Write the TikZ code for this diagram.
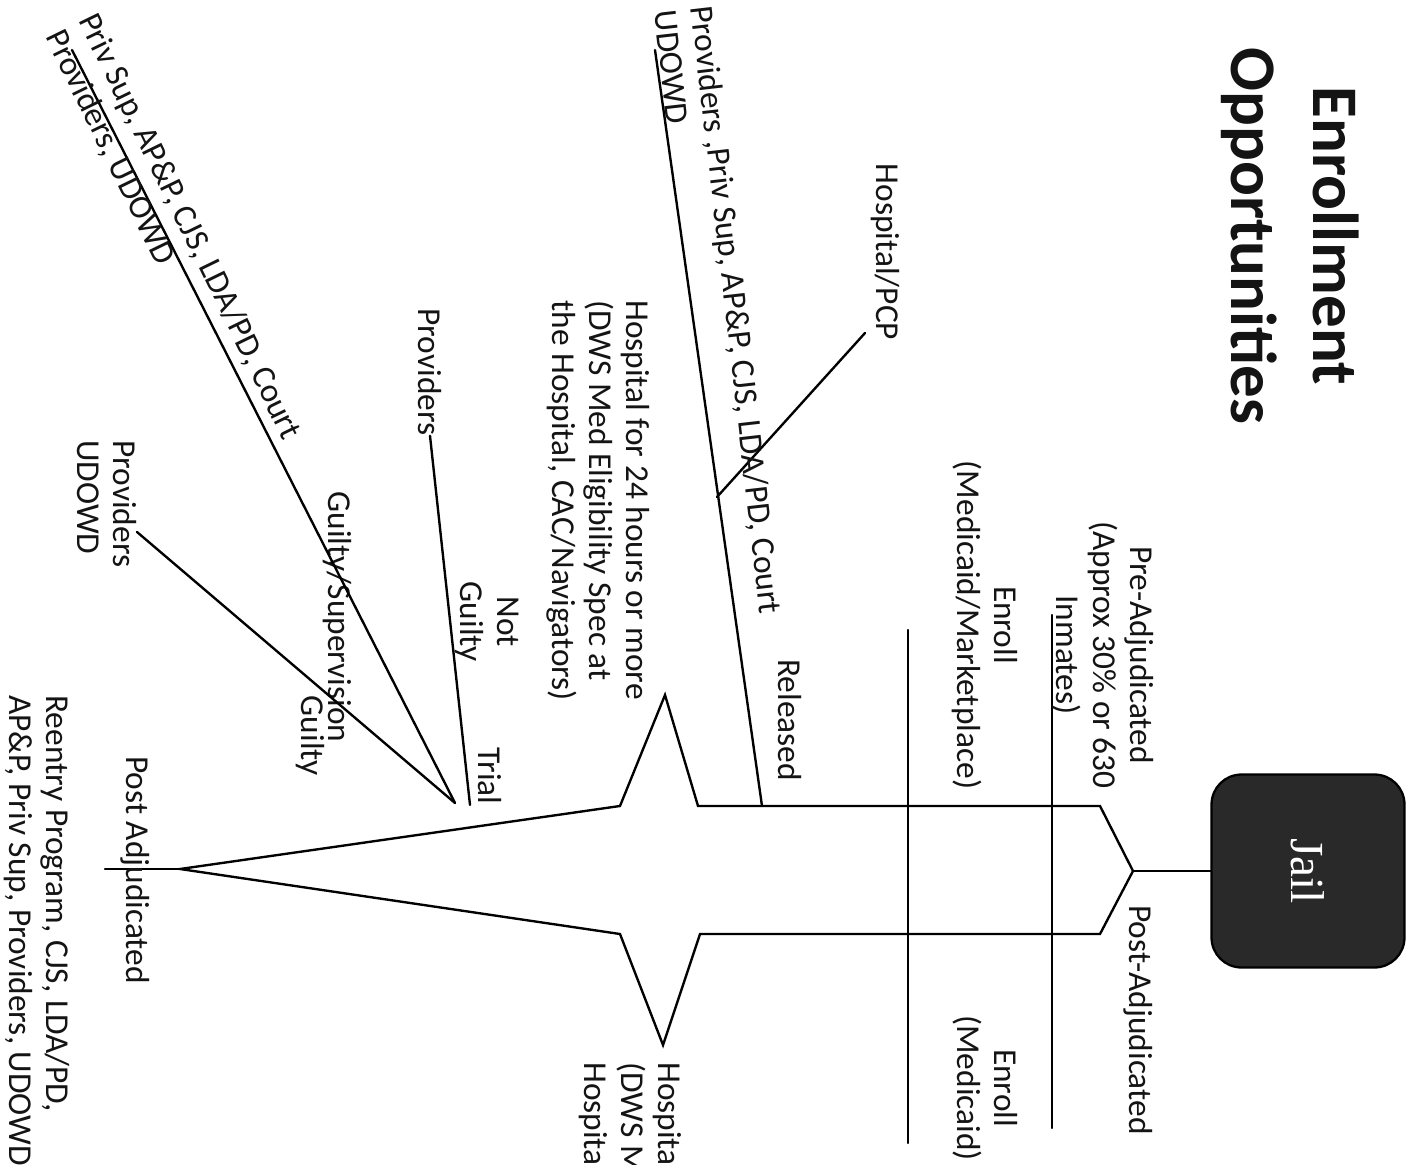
\documentclass[tikz,border=0pt]{standalone}
\usepackage{fontspec}
\setmainfont{Carlito}
\newfontfamily\jailfont{Liberation Serif}
\begin{document}
\begin{tikzpicture}[x=0.02cm,y=-0.02cm,
  ln/.style={line width=1.35pt, line cap=round, line join=miter},
  lbl/.style={font=\fontsize{19}{21}\selectfont, inner sep=0pt, text=black!92},
  vlbl/.style={lbl, rotate=-90},
  titlefont/.style={font=\fontsize{37}{47}\selectfont\bfseries},
  jailbox/.style={draw=black, line width=1.3pt, fill=black!84, rounded corners=0.6cm,
    minimum width=3.86cm, minimum height=3.86cm, text=white, inner sep=0pt,
    font=\jailfont\fontsize{27}{30}\selectfont}
]
\fill[white] (0,0) rectangle (1423,1165);
\useasboundingbox (0,0) rectangle (1423,1165);
\clip (0,0) rectangle (1423,1165);

% title and jail
\node[vlbl, titlefont, align=center] (title) at (1290,236) {Enrollment\\Opportunities};
\node[jailbox, rotate=-90] (jail) at (1308,871) {Jail};

% main outline
\coordinate (apex) at (1133,871);
\coordinate (tr) at (1100,806);
\coordinate (br) at (1100,934);
\coordinate (s1r) at (698,806);
\coordinate (s1t) at (665,695);
\coordinate (s1l) at (620,806);
\coordinate (tip) at (180,869);
\coordinate (s2l) at (620,934);
\coordinate (s2b) at (663,1045);
\coordinate (s2r) at (700,934);
\coordinate (stub) at (105,869);
\draw[ln] (jail.south) -- (apex);
\draw[ln] (apex) -- (tr) -- (s1r) -- (s1t) -- (s1l) -- (tip) -- (s2l) -- (s2b) -- (s2r) -- (br) -- cycle;
\draw[ln] (tip) -- (stub);

% enrollment bars
\coordinate (v1a) at (1052,615); \coordinate (v1b) at (1052,1128);
\coordinate (v2a) at (908,630);  \coordinate (v2b) at (908,1143);
\draw[ln] (v1a) -- (v1b);
\draw[ln] (v2a) -- (v2b);

% labels right part
\node[vlbl, align=center] (pre) at (1103,655) {Pre-Adjudicated\\(Approx 30\% or 630\\Inmates)};
\node[vlbl, align=center] (enrollmm) at (985,625) {Enroll\\(Medicaid/Marketplace)};
\node[vlbl] (postadj) at (1138,1020) {Post-Adjudicated};
\node[vlbl, align=center] (enrollm) at (985,1088) {Enroll\\(Medicaid)};

% released branch
\coordinate (relA) at (762,806);
\coordinate (relB) at (655,50);
\coordinate (pcpA) at (717,497);
\node[vlbl] (released) at (790,720) {Released};
\node[vlbl] (pcp) at (885,252) {Hospital/PCP};
\coordinate (pcpB) at (865,333);
\draw[ln] (relA) -- (relB);
\draw[ln] (pcpA) -- (pcpB);
\node[lbl, rotate=-83.5, align=left, anchor=west] (provrel) at (684,8)
  {Providers ,Priv Sup, AP\&P, CJS, LDA/PD, Court\\UDOWD};

% hospital blocks
\node[vlbl, align=left, anchor=west] (hosp1) at (598,300)
  {Hospital for 24 hours or more\\(DWS Med Eligibility Spec at\\the Hospital, CAC/Navigators)};
\node[vlbl, align=left, anchor=west] (hosp2) at (630,1062)
  {Hospital for 24 hours or more\\(DWS Med Eligibility Spec at\\Hospital, CAC/Navigators)};

% trial branches
\node[vlbl] (trial) at (490,776) {Trial};
\node[vlbl, align=center] (notguilty) at (487,622) {Not\\Guilty};
\node[vlbl] (prov) at (430,372) {Providers};
\node[vlbl] (guiltysup) at (337,617) {Guilty/Supervision};
\node[vlbl] (guilty) at (310,736) {Guilty};
\coordinate (triA) at (470,805);
\coordinate (gA) at (455,803);
\coordinate (gB) at (72,50);
\coordinate (g2B) at (137,532);
\draw[ln] (triA) -- (prov.east);
\draw[ln] (gA) -- (gB);
\draw[ln] (gA) -- (g2B);
\node[lbl, rotate=-64, align=left, anchor=west] (privsup) at (70,24)
  {Priv Sup, AP\&P, CJS, LDA/PD, Court\\Providers, UDOWD};
\node[vlbl, align=left, anchor=west] (provud) at (107,440) {Providers\\UDOWD};

% post adjudicated
\node[vlbl] (postadj2) at (135,870) {Post Adjudicated};
\node[vlbl, align=left, anchor=west] (reentry) at (37,695)
  {Reentry Program, CJS, LDA/PD,\\AP\&P, Priv Sup, Providers, UDOWD};
\end{tikzpicture}
\end{document}
